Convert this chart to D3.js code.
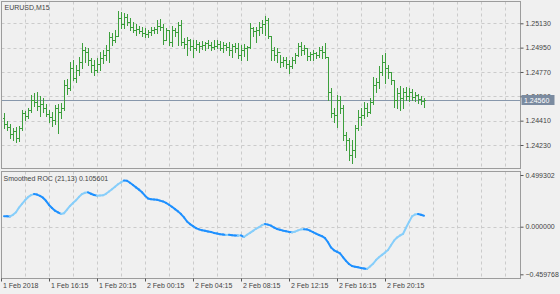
<!DOCTYPE html>
<html>
<head>
<meta charset="utf-8">
<script src="https://cdnjs.cloudflare.com/ajax/libs/d3/7.8.5/d3.min.js"></script>
<style>
  body { margin: 0; background: #f0f0f0; }
  svg { display: block; }
  text { font-family: "Liberation Sans", Arial, sans-serif; }
</style>
</head>
<body>
<div class="chart"></div>
<script>
// EURUSD M15 bars with Smoothed ROC sub-window

var svgWidth = 560;
var svgHeight = 294;

// Price data, one value per M15 bar
var barOpen = [
  1.24427, 1.24382, 1.24360, 1.24308, 1.24331, 1.24279, 1.24353, 1.24464, 1.24442, 1.24486,
  1.24560, 1.24545, 1.24516, 1.24530, 1.24501, 1.24456, 1.24434, 1.24412, 1.24501, 1.24471,
  1.24501, 1.24671, 1.24649, 1.24797, 1.24723, 1.24782, 1.24841, 1.24930, 1.24915, 1.24856,
  1.24819, 1.24782, 1.24826, 1.24871, 1.24893, 1.24930, 1.25026, 1.25004, 1.25034, 1.25167,
  1.25122, 1.25174, 1.25137, 1.25100, 1.25078, 1.25085, 1.25071, 1.25056, 1.25048, 1.25063,
  1.25078, 1.25085, 1.25108, 1.25100, 1.25004, 1.25078, 1.24989, 1.25078, 1.25063, 1.25115,
  1.24989, 1.24974, 1.25004, 1.24960, 1.24945, 1.24974, 1.24960, 1.24967, 1.24982, 1.24967,
  1.24952, 1.24960, 1.24974, 1.24945, 1.24967, 1.24952, 1.24930, 1.24960, 1.24945, 1.24893,
  1.24930, 1.24945, 1.24952, 1.25093, 1.25071, 1.25078, 1.25100, 1.25122, 1.25152, 1.25034,
  1.24930, 1.24893, 1.24915, 1.24841, 1.24856, 1.24826, 1.24812, 1.24856, 1.24893, 1.24960,
  1.24930, 1.24945, 1.24886, 1.24900, 1.24908, 1.24893, 1.24930, 1.24915, 1.24878, 1.24619,
  1.24464, 1.24449, 1.24560, 1.24501, 1.24301, 1.24264, 1.24153, 1.24190, 1.24353, 1.24434,
  1.24449, 1.24501, 1.24471, 1.24545, 1.24671, 1.24693, 1.24767, 1.24841, 1.24797, 1.24767,
  1.24708, 1.24560, 1.24612, 1.24575, 1.24619, 1.24590, 1.24619, 1.24582, 1.24597, 1.24567, 1.24553
];
var barHigh = [
  1.24464, 1.24405, 1.24382, 1.24353, 1.24360, 1.24368, 1.24486, 1.24479, 1.24501, 1.24597,
  1.24612, 1.24619, 1.24590, 1.24575, 1.24530, 1.24486, 1.24471, 1.24523, 1.24530, 1.24538,
  1.24708, 1.24715, 1.24841, 1.24856, 1.24819, 1.24878, 1.24982, 1.24952, 1.24945, 1.24871,
  1.24856, 1.24871, 1.24915, 1.24930, 1.24967, 1.25063, 1.25056, 1.25078, 1.25219, 1.25211,
  1.25204, 1.25196, 1.25167, 1.25137, 1.25122, 1.25108, 1.25100, 1.25093, 1.25078, 1.25100,
  1.25100, 1.25152, 1.25159, 1.25122, 1.25093, 1.25078, 1.25108, 1.25093, 1.25137, 1.25152,
  1.25019, 1.25026, 1.25011, 1.25004, 1.25004, 1.24989, 1.24997, 1.24989, 1.25004, 1.24989,
  1.25004, 1.25004, 1.24997, 1.24989, 1.24982, 1.24989, 1.24974, 1.24982, 1.24982, 1.24967,
  1.24974, 1.24960, 1.25130, 1.25100, 1.25100, 1.25137, 1.25152, 1.25182, 1.25167, 1.25034,
  1.24952, 1.24945, 1.24893, 1.24878, 1.24878, 1.24856, 1.24878, 1.24908, 1.24982, 1.24989,
  1.24967, 1.24945, 1.24915, 1.24930, 1.24915, 1.24952, 1.24960, 1.24982, 1.24878, 1.24649,
  1.24501, 1.24597, 1.24590, 1.24523, 1.24323, 1.24279, 1.24264, 1.24375, 1.24486, 1.24501,
  1.24545, 1.24538, 1.24575, 1.24730, 1.24723, 1.24812, 1.24893, 1.24908, 1.24819, 1.24767,
  1.24708, 1.24649, 1.24664, 1.24649, 1.24656, 1.24649, 1.24641, 1.24619, 1.24604, 1.24590, 1.24575
];
var barLow = [
  1.24353, 1.24338, 1.24279, 1.24264, 1.24249, 1.24257, 1.24338, 1.24412, 1.24427, 1.24471,
  1.24516, 1.24486, 1.24442, 1.24471, 1.24442, 1.24397, 1.24368, 1.24382, 1.24316, 1.24427,
  1.24486, 1.24604, 1.24634, 1.24708, 1.24693, 1.24745, 1.24797, 1.24841, 1.24819, 1.24767,
  1.24745, 1.24767, 1.24782, 1.24834, 1.24856, 1.24841, 1.24967, 1.24989, 1.25034, 1.25093,
  1.25093, 1.25115, 1.25078, 1.25063, 1.25041, 1.25056, 1.25034, 1.25026, 1.25026, 1.25041,
  1.25056, 1.25056, 1.25078, 1.24974, 1.25004, 1.24967, 1.24960, 1.25034, 1.24967, 1.24967,
  1.24945, 1.24893, 1.24930, 1.24878, 1.24930, 1.24915, 1.24937, 1.24930, 1.24945, 1.24930,
  1.24937, 1.24945, 1.24930, 1.24915, 1.24930, 1.24893, 1.24878, 1.24915, 1.24871, 1.24856,
  1.24886, 1.24856, 1.24945, 1.25034, 1.24989, 1.25041, 1.25056, 1.25041, 1.25019, 1.24856,
  1.24856, 1.24841, 1.24804, 1.24812, 1.24797, 1.24760, 1.24797, 1.24834, 1.24886, 1.24893,
  1.24900, 1.24856, 1.24856, 1.24856, 1.24871, 1.24878, 1.24871, 1.24871, 1.24560, 1.24434,
  1.24397, 1.24360, 1.24464, 1.24264, 1.24190, 1.24116, 1.24094, 1.24138, 1.24338, 1.24375,
  1.24427, 1.24442, 1.24464, 1.24530, 1.24619, 1.24649, 1.24745, 1.24686, 1.24723, 1.24678,
  1.24508, 1.24501, 1.24486, 1.24501, 1.24560, 1.24553, 1.24560, 1.24553, 1.24538, 1.24530, 1.24508
];
var barClose = [
  1.24382, 1.24360, 1.24308, 1.24331, 1.24279, 1.24353, 1.24464, 1.24442, 1.24486, 1.24560,
  1.24545, 1.24516, 1.24530, 1.24501, 1.24456, 1.24434, 1.24412, 1.24501, 1.24471, 1.24501,
  1.24671, 1.24649, 1.24797, 1.24723, 1.24782, 1.24841, 1.24930, 1.24915, 1.24856, 1.24819,
  1.24782, 1.24826, 1.24871, 1.24893, 1.24930, 1.25026, 1.25004, 1.25034, 1.25167, 1.25122,
  1.25174, 1.25137, 1.25100, 1.25078, 1.25085, 1.25071, 1.25056, 1.25048, 1.25063, 1.25078,
  1.25085, 1.25108, 1.25100, 1.25004, 1.25078, 1.24989, 1.25078, 1.25063, 1.25115, 1.24989,
  1.24974, 1.25004, 1.24960, 1.24945, 1.24974, 1.24960, 1.24967, 1.24982, 1.24967, 1.24952,
  1.24960, 1.24974, 1.24945, 1.24967, 1.24952, 1.24930, 1.24960, 1.24945, 1.24893, 1.24930,
  1.24945, 1.24952, 1.25093, 1.25071, 1.25078, 1.25100, 1.25122, 1.25152, 1.25034, 1.24930,
  1.24893, 1.24915, 1.24841, 1.24856, 1.24826, 1.24812, 1.24856, 1.24893, 1.24960, 1.24930,
  1.24945, 1.24886, 1.24900, 1.24908, 1.24893, 1.24930, 1.24915, 1.24878, 1.24619, 1.24464,
  1.24449, 1.24560, 1.24501, 1.24301, 1.24264, 1.24153, 1.24190, 1.24353, 1.24434, 1.24449,
  1.24501, 1.24471, 1.24545, 1.24671, 1.24693, 1.24767, 1.24841, 1.24797, 1.24767, 1.24708,
  1.24560, 1.24612, 1.24575, 1.24619, 1.24590, 1.24619, 1.24582, 1.24597, 1.24567, 1.24553, 1.24560
];

// Smoothed ROC (21,13), one value per bar
var rocValues = [
  0.102, 0.100, 0.099, 0.115, 0.140, 0.185, 0.220, 0.255, 0.285, 0.305,
  0.315, 0.310, 0.298, 0.280, 0.250, 0.210, 0.180, 0.155, 0.138, 0.123,
  0.130, 0.164, 0.200, 0.228, 0.255, 0.288, 0.315, 0.328, 0.332, 0.318,
  0.306, 0.300, 0.301, 0.303, 0.318, 0.340, 0.362, 0.385, 0.410, 0.428,
  0.446, 0.444, 0.424, 0.402, 0.380, 0.358, 0.333, 0.300, 0.272, 0.266,
  0.263, 0.260, 0.252, 0.244, 0.230, 0.212, 0.192, 0.170, 0.148, 0.122,
  0.090, 0.050, 0.025, 0.005, -0.014, -0.026, -0.034, -0.040, -0.046, -0.052,
  -0.060, -0.066, -0.072, -0.076, -0.080, -0.078, -0.082, -0.084, -0.086, -0.084,
  -0.100, -0.078, -0.060, -0.040, -0.020, -0.005, 0.015, 0.026, 0.020, 0.010,
  -0.008, -0.022, -0.030, -0.038, -0.044, -0.050, -0.054, -0.048, -0.036, -0.026,
  -0.025, -0.026, -0.038, -0.052, -0.066, -0.080, -0.092, -0.110, -0.150, -0.200,
  -0.228, -0.242, -0.257, -0.295, -0.330, -0.360, -0.380, -0.386, -0.392, -0.398,
  -0.404, -0.409, -0.385, -0.358, -0.322, -0.295, -0.272, -0.250, -0.225, -0.180,
  -0.135, -0.105, -0.085, -0.070, -0.010, 0.045, 0.100, 0.118, 0.123, 0.115, 0.105601
];

// Axis labels
var priceTicks = [1.25130, 1.24950, 1.24770, 1.24590, 1.24410, 1.24230];
var rocTicks = [0.499302, 0.000000, -0.459768];
var timeLabels = ["1 Feb 2018", "1 Feb 16:15", "1 Feb 20:15", "2 Feb 00:15", "2 Feb 04:15",
                  "2 Feb 08:15", "2 Feb 12:15", "2 Feb 16:15", "2 Feb 20:15"];
var timeLabelBars = [0, 15, 31, 47, 63, 79, 95, 111, 127];

// Panel geometry
var left = 1.5, right = 520.5;
var mainTop = 1.5, mainBottom = 168.5;
var subTop = 171.5, subBottom = 278.5;

var svg = d3.select(".chart")
  .append("svg")
  .attr("width", svgWidth)
  .attr("height", svgHeight);

svg.append("rect")
  .attr("width", svgWidth)
  .attr("height", svgHeight)
  .attr("fill", "#f0f0f0");

// Scales
var xScale = d3.scaleLinear()
  .domain([0, barClose.length - 1])
  .range([4, 4 + 3 * (barClose.length - 1)]);

var yPrice = d3.scaleLinear()
  .domain([1.24230, 1.25130])
  .range([145, 23.3]);

var yRoc = d3.scaleLinear()
  .domain([-0.459768, 0.499302])
  .range([274.3, 175]);

// Grid
var gridBars = d3.range(7, 172, 8);
var gridColor = "#cbcbcb";

[[mainTop, mainBottom], [subTop, subBottom]].forEach(function(p) {
  svg.append("g")
    .selectAll("line")
    .data(gridBars)
    .enter()
    .append("line")
    .attr("x1", d => Math.round(xScale(d)) + 0.5)
    .attr("x2", d => Math.round(xScale(d)) + 0.5)
    .attr("y1", p[0])
    .attr("y2", p[1])
    .attr("stroke", gridColor)
    .attr("stroke-dasharray", "3,3")
    .filter(d => xScale(d) > right)
    .remove();
});

svg.append("g")
  .selectAll("line")
  .data(priceTicks)
  .enter()
  .append("line")
  .attr("x1", left)
  .attr("x2", right)
  .attr("y1", d => Math.round(yPrice(d)) + 0.5)
  .attr("y2", d => Math.round(yPrice(d)) + 0.5)
  .attr("stroke", gridColor)
  .attr("stroke-dasharray", "3,3");

svg.append("line")
  .attr("x1", left)
  .attr("x2", right)
  .attr("y1", Math.round(yRoc(0)) + 0.5)
  .attr("y2", Math.round(yRoc(0)) + 0.5)
  .attr("stroke", gridColor)
  .attr("stroke-dasharray", "3,3");

// Current price line
var lastPrice = barClose[barClose.length - 1];
var lastY = Math.round(yPrice(lastPrice)) + 0.5;
svg.append("line")
  .attr("x1", left)
  .attr("x2", right)
  .attr("y1", lastY)
  .attr("y2", lastY)
  .attr("stroke", "#8797ab");

// OHLC bars
svg.append("g")
  .selectAll("path")
  .data(barClose)
  .enter()
  .append("path")
  .attr("d", function(c, i) {
    var x = Math.round(xScale(i)) + 0.5;
    var yo = Math.round(yPrice(barOpen[i])) + 0.5;
    var yc = Math.round(yPrice(c)) + 0.5;
    return "M" + x + "," + Math.round(yPrice(barHigh[i])) +
      "V" + Math.round(yPrice(barLow[i]) + 1) +
      "M" + (x - 1.5) + "," + yo + "H" + x +
      "M" + x + "," + yc + "H" + (x + 1.5);
  })
  .attr("fill", "none")
  .attr("stroke", "#3c9f3c")
  .attr("stroke-width", 1);

// ROC line, coloured by direction
var segs = d3.range(1, rocValues.length);
svg.append("g")
  .selectAll("line")
  .data(segs)
  .enter()
  .append("line")
  .attr("x1", i => xScale(i - 1))
  .attr("y1", i => yRoc(rocValues[i - 1]))
  .attr("x2", i => xScale(i))
  .attr("y2", i => yRoc(rocValues[i]))
  .attr("stroke", i => rocValues[i] >= rocValues[i - 1] ? "#87cefa" : "#1e90ff")
  .attr("stroke-width", 2)
  .attr("stroke-linecap", "round");

// Frames
svg.append("rect")
  .attr("x", left).attr("y", mainTop)
  .attr("width", right - left).attr("height", mainBottom - mainTop)
  .attr("fill", "none").attr("stroke", "#9c9c9c");

svg.append("rect")
  .attr("x", left).attr("y", subTop)
  .attr("width", right - left).attr("height", subBottom - subTop)
  .attr("fill", "none").attr("stroke", "#9c9c9c");

// Right axes
function styleAxis(g) {
  g.select(".domain").remove();
  g.selectAll("line").attr("stroke", "#555");
  g.selectAll("text")
    .attr("fill", "#444")
    .style("font-family", "'Liberation Sans', Arial, sans-serif")
    .style("font-size", "7px");
}

svg.append("g")
  .attr("transform", "translate(" + right + ",0)")
  .call(d3.axisRight(yPrice).tickValues(priceTicks).tickSize(3).tickPadding(2)
    .tickFormat(d3.format(".5f")))
  .call(styleAxis);

svg.append("g")
  .attr("transform", "translate(" + right + ",0)")
  .call(d3.axisRight(yRoc).tickValues(rocTicks).tickSize(3).tickPadding(2)
    .tickFormat(d3.format(".6f")))
  .call(styleAxis);

// Current price label
svg.append("rect")
  .attr("x", right + 1)
  .attr("y", lastY - 5.5)
  .attr("width", 33)
  .attr("height", 10)
  .attr("fill", "#7b8ba0");

svg.append("text")
  .attr("x", right + 3.5)
  .attr("y", lastY + 2.5)
  .attr("font-size", 7)
  .attr("fill", "#ffffff")
  .text(d3.format(".5f")(lastPrice));

// Time axis
var timeG = svg.append("g")
  .selectAll("g")
  .data(timeLabels)
  .enter()
  .append("g")
  .attr("transform", function(d, i) {
    var x = i === 0 ? left : Math.round(xScale(timeLabelBars[i])) + 0.5;
    return "translate(" + x + "," + subBottom + ")";
  });

timeG.append("line")
  .attr("y1", 0)
  .attr("y2", 3)
  .attr("stroke", "#555");

timeG.append("text")
  .attr("x", 1.5)
  .attr("y", 9)
  .attr("font-size", 7)
  .attr("fill", "#444")
  .text(d => d);

// Window titles
svg.append("text")
  .attr("x", 4.5)
  .attr("y", 9.5)
  .attr("font-size", 7)
  .attr("fill", "#444")
  .text("EURUSD,M15");

svg.append("text")
  .attr("x", 3.5)
  .attr("y", 180.5)
  .attr("font-size", 7)
  .attr("fill", "#444")
  .text("Smoothed ROC (21,13) " + d3.format(".6f")(rocValues[rocValues.length - 1]));
</script>
</body>
</html>
